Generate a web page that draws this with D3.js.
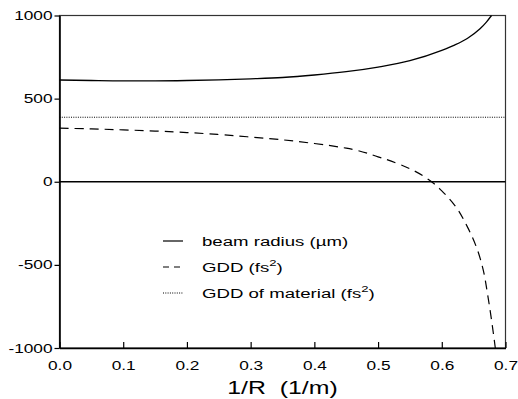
<!DOCTYPE html>
<html>
<head>
<meta charset="utf-8">
<script src="https://cdn.jsdelivr.net/npm/d3@7"></script>
<style>
  body { margin: 0; background: #fff; }
  text { font-family: "Liberation Sans", Arial, Helvetica, sans-serif; fill: #000; }
</style>
</head>
<body>
<div id="chart"></div>
<script>
// beam radius (um) vs 1/R
var beamX = [0, 0.05, 0.1, 0.15, 0.2, 0.25, 0.3, 0.35, 0.4, 0.45, 0.5, 0.55, 0.6, 0.62, 0.64, 0.66, 0.67, 0.678];
var beamY = [612, 609, 607, 607, 609, 613, 619, 627, 642, 662, 690, 728, 790, 822, 862, 920, 960, 1000];

// GDD (fs^2)
var gddX = [0, 0.05, 0.1, 0.15, 0.2, 0.25, 0.3, 0.35, 0.4, 0.45, 0.5, 0.55, 0.584, 0.6, 0.62, 0.64, 0.655, 0.665, 0.672, 0.678, 0.684];
var gddY = [322, 318, 312, 305, 296, 284, 269, 252, 230, 202, 150, 78, 0, -55, -140, -270, -400, -530, -680, -830, -1000];

// GDD of material
var matX = [0, 0.7];
var matY = [388, 388];

var xTicks = [0, 0.1, 0.2, 0.3, 0.4, 0.5, 0.6, 0.7];
var yTicks = [-1000, -500, 0, 500, 1000];

var legendLabels = ["beam radius (\u00b5m)", "GDD (fs", "GDD of material (fs"];

var W = 518, H = 399;
var stretch = 1.38; // text in the picture is wide

var svg = d3.select("#chart").append("svg")
    .attr("width", W)
    .attr("height", H);

var x = d3.scaleLinear().domain([0, 0.7]).range([59.5, 505.5]);
var y = d3.scaleLinear().domain([-1000, 1000]).range([348, 15.5]);

function pts(xs, ys) {
    return xs.map(function (d, i) { return [d, ys[i]]; });
}

var line = d3.line()
    .x(function (d) { return x(d[0]); })
    .y(function (d) { return y(d[1]); })
    .curve(d3.curveMonotoneX);

// frame
svg.append("rect")
    .attr("x", x(0)).attr("y", y(1000))
    .attr("width", x(0.7) - x(0)).attr("height", y(-1000) - y(1000))
    .attr("fill", "none").attr("stroke", "#333").attr("stroke-width", 1.2);

// zero line
svg.append("line")
    .attr("x1", x(0)).attr("x2", x(0.7))
    .attr("y1", y(0)).attr("y2", y(0))
    .attr("stroke", "#000").attr("stroke-width", 1.5);

// data lines
svg.append("path").datum(pts(beamX, beamY))
    .attr("d", line).attr("fill", "none")
    .attr("stroke", "#000").attr("stroke-width", 1.3);

svg.append("path").datum(pts(gddX, gddY))
    .attr("d", d3.line().x(function (d) { return x(d[0]); }).y(function (d) { return y(d[1]); }).curve(d3.curveMonotoneY))
    .attr("fill", "none")
    .attr("stroke", "#000").attr("stroke-width", 1.2)
    .attr("stroke-dasharray", "9,6");

svg.append("path").datum(pts(matX, matY))
    .attr("d", line).attr("fill", "none")
    .attr("stroke", "#000").attr("stroke-width", 1)
    .attr("stroke-dasharray", "1,1.3");

// axes
var gx = svg.append("g")
    .attr("transform", "translate(0," + y(-1000) + ")")
    .call(d3.axisBottom(x).tickValues(xTicks).tickFormat(d3.format(".1f"))
        .tickSizeInner(-6).tickSizeOuter(0).tickPadding(13));

var gy = svg.append("g")
    .attr("transform", "translate(" + x(0) + ",0)")
    .call(d3.axisLeft(y).tickValues(yTicks).tickFormat(function (d) { return String(d); })
        .tickSizeInner(5).tickSizeOuter(0).tickPadding(2));

[gx, gy].forEach(function (g) {
    g.select(".domain").attr("stroke", "#000").attr("stroke-width", 1.6);
    g.selectAll(".tick line").attr("stroke", "#000").attr("stroke-width", 1.2);
    g.selectAll("text").style("font-size", "12.5px").attr("fill", "#000");
});
gy.selectAll(".tick text").each(function () {
    var t = d3.select(this);
    t.attr("x", +t.attr("x") / stretch).attr("transform", "scale(" + stretch + ",1)");
});
gx.selectAll(".tick text").attr("transform", "scale(" + stretch + ",1)");

// axis title
svg.append("text")
    .attr("transform", "translate(" + x(0.35) + ",394) scale(" + stretch + ",1)")
    .attr("text-anchor", "middle")
    .style("font-size", "18px")
    .attr("xml:space", "preserve")
    .text("1/R  (1/m)");

// legend
var legRows = [241, 267, 293];
var legDash = [null, "6,5", "1,1.3"];
var leg = svg.append("g");
legendLabels.forEach(function (lab, i) {
    leg.append("line")
        .attr("x1", 163).attr("x2", 183)
        .attr("y1", legRows[i]).attr("y2", legRows[i])
        .attr("stroke", "#000").attr("stroke-width", i === 2 ? 1 : 1.2)
        .attr("stroke-dasharray", legDash[i]);
    var t = leg.append("text")
        .attr("transform", "translate(202," + (legRows[i] + 5) + ") scale(" + stretch + ",1)")
        .style("font-size", "13.5px");
    t.append("tspan").text(lab);
    if (i > 0) {
        t.append("tspan").attr("dy", -6).style("font-size", "9.5px").text("2");
        t.append("tspan").attr("dy", 6).text(")");
    }
});
</script>
</body>
</html>
